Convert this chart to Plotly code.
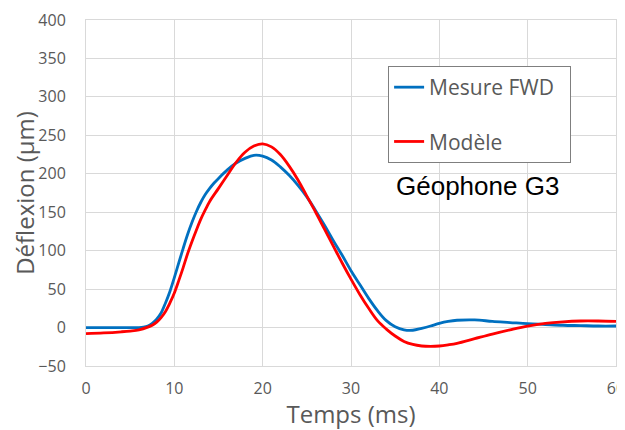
import plotly.graph_objects as go

# Measured FWD geophone G3 (blue)
t_mesure = [0, 2, 4, 6, 6.5, 7, 7.5, 8, 8.5, 9, 9.5, 10, 10.5, 11, 11.5, 12, 12.5, 13, 13.5, 14,
            14.5, 15, 16, 17, 18, 19, 20, 21, 22, 23, 24, 25, 26, 27, 28, 29, 30, 31, 32, 33, 34,
            35, 36, 37, 38, 39, 40, 41, 42, 44, 46, 48, 50, 52, 54, 56, 58, 60]
d_mesure = [0, 0, 0, 0, 0.5, 2, 5.5, 11, 19, 32, 47, 65, 84, 103, 121, 137, 151, 163, 173, 181,
            188, 194, 205, 214, 220, 224, 223, 218, 209, 198, 185, 170, 152, 133, 113, 94, 74, 56, 38, 22, 9,
            1, -3, -3.5, -1, 2, 5.5, 8, 9.5, 10, 8, 6.5, 5, 4, 3, 2.5, 2, 2]

# Model (red)
t_modele = [0, 2, 4, 5, 6, 7, 7.5, 8, 8.5, 9, 9.5, 10, 10.5, 11, 11.5, 12, 12.5, 13, 13.5, 14,
            15, 16, 17, 18, 19, 20, 21, 22, 23, 24, 25, 26, 27, 28, 29, 30, 31, 32, 33, 34,
            35, 36, 37, 38, 39, 40, 41, 42, 44, 46, 48, 50, 52, 54, 56, 58, 60]
d_modele = [-8, -7, -5.5, -4.5, -3, 0.5, 3, 7, 13, 21, 32, 45, 61, 78, 96, 112, 127, 141, 153, 164,
            181, 198, 215, 228, 236, 239, 235, 225, 210, 192, 171, 150, 128, 106, 84, 63, 43, 25, 9, -2,
            -11, -18, -22, -24, -24.5, -24, -22.5, -20.5, -14.5, -8.5, -3, 2, 5.5, 7.5, 8.5, 8.5, 8]

x_ticks = [0, 10, 20, 30, 40, 50, 60]
y_ticks = [-50, 0, 50, 100, 150, 200, 250, 300, 350, 400]

GRID = "#D9D9D9"
TXT = "#595959"
FONT = "Open Sans"
NB = "\u00a0"

fig = go.Figure()
fig.add_trace(go.Scatter(x=t_mesure, y=d_mesure, mode="lines", name="Mesure FWD" + NB * 2,
                         line=dict(color="#0070C0", width=2.8, shape="spline", smoothing=1.0),
                         legendgroup="a"))
fig.add_trace(go.Scatter(x=t_modele, y=d_modele, mode="lines", name="Modèle",
                         line=dict(color="#FF0000", width=2.8, shape="spline", smoothing=1.0),
                         legendgroup="b"))

fig.add_annotation(x=44.3, y=184, text="Géophone G3", showarrow=False,
                   font=dict(family="Liberation Sans", size=26, color="#000000"))

# the page adds an 8px body margin, so the figure is 8px smaller than the window
fig.update_layout(
    width=617, height=422,
    margin=dict(l=78, r=9, t=12, b=64),
    paper_bgcolor="white", plot_bgcolor="white",
    font=dict(family=FONT, color=TXT),
    showlegend=True,
    legend=dict(x=0.570, y=0.867, xanchor="left", yanchor="top",
                bordercolor="#7F7F7F", borderwidth=1, bgcolor="white",
                font=dict(family=FONT, size=21, color=TXT),
                tracegroupgap=24, itemwidth=30,
                traceorder="grouped"),
)
fig.update_xaxes(range=[0, 60], tickvals=x_ticks, showgrid=True, gridcolor=GRID, gridwidth=1,
                 showline=True, linecolor=GRID, mirror=True, zeroline=False, automargin=False,
                 tickfont=dict(size=16, color=TXT), ticklabelstandoff=8,
                 ticklabeloverflow="allow",
                 title=dict(text="Temps (ms)", font=dict(size=24, color=TXT), standoff=0))
fig.update_yaxes(range=[-50, 400], tickvals=y_ticks, showgrid=True, gridcolor=GRID, gridwidth=1,
                 showline=True, linecolor=GRID, mirror=True, zeroline=True, zerolinecolor=GRID,
                 zerolinewidth=1, automargin=False,
                 tickfont=dict(size=16, color=TXT), ticklabelstandoff=16,
                 ticklabeloverflow="allow",
                 title=dict(text="Déflexion (µm)", font=dict(size=24, color=TXT), standoff=3))

fig.write_html("out.html")
